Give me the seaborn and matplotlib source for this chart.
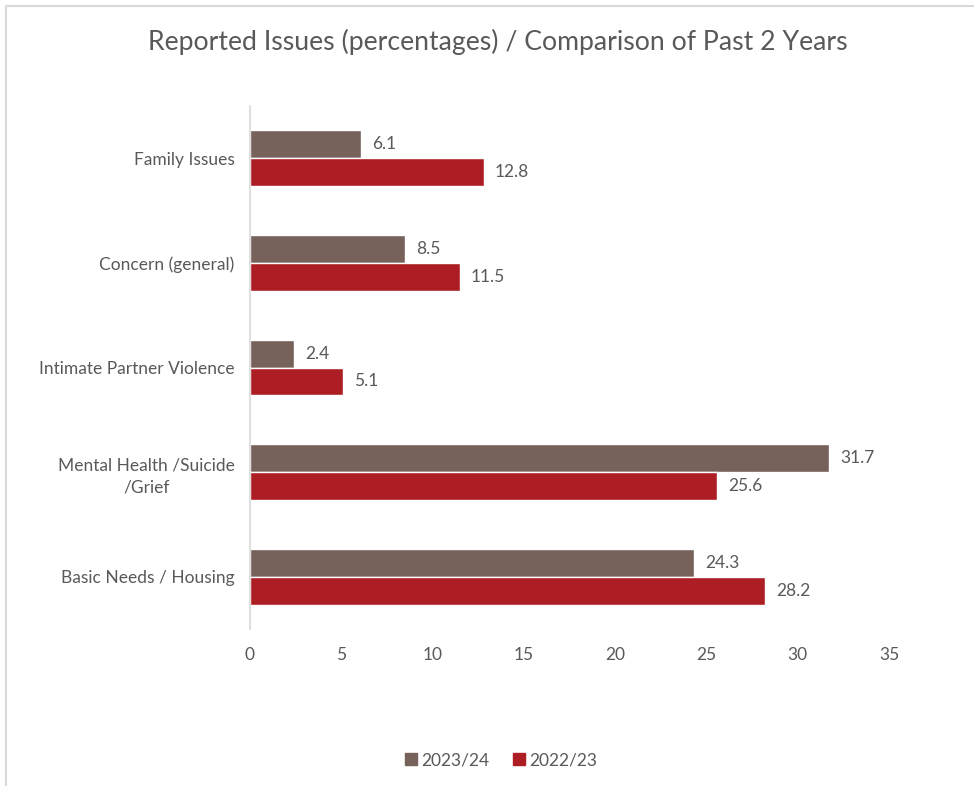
import matplotlib
matplotlib.use("Agg")
import matplotlib.pyplot as plt
import seaborn as sns
import pandas as pd
from matplotlib.lines import Line2D

categories = ["Family Issues", "Concern (general)", "Intimate Partner Violence",
              "Mental Health /Suicide\n/Grief", "Basic Needs / Housing"]
series_names = ["2023/24", "2022/23"]
values_2023_24 = [6.1, 8.5, 2.4, 31.7, 24.3]
values_2022_23 = [12.8, 11.5, 5.1, 25.6, 28.2]
x_ticks = [0, 5, 10, 15, 20, 25, 30, 35]
title = "Reported Issues (percentages) / Comparison of Past 2 Years"
colors = ["#76625A", "#AC1E24"]
text_color = "#595959"

df = pd.DataFrame({
    "Issue": categories * 2,
    "Year": [series_names[0]] * len(categories) + [series_names[1]] * len(categories),
    "Value": values_2023_24 + values_2022_23,
})

sns.set_theme(style="white")
plt.rcParams["font.family"] = ["Lato", "DejaVu Sans"]

fig = plt.figure(figsize=(9.74, 7.86), dpi=100)
ax = fig.add_axes([250/974, 1-629/786, (889-250)/974, (629-106)/786])

sns.barplot(data=df, y="Issue", x="Value", hue="Year", hue_order=series_names,
            order=categories, palette=colors, orient="h", width=0.535,
            saturation=1, ax=ax, legend=False, errorbar=None)

ax.set_xlim(0, 35)
ax.set_xticks(x_ticks)
ax.set_xticklabels([str(t) for t in x_ticks])
ax.set_xlabel("")
ax.set_ylabel("")
for s in ["top", "right", "bottom"]:
    ax.spines[s].set_visible(False)
ax.spines["left"].set_color("#D9D9D9")
ax.spines["left"].set_linewidth(1.2)
ax.tick_params(axis="both", length=0, colors=text_color, labelsize=12.5)
ax.tick_params(axis="x", pad=13)
ax.tick_params(axis="y", pad=11)
for lab in ax.get_yticklabels():
    lab.set_multialignment("center")
    lab.set_linespacing(1.45)
ax.grid(False)

for cont in ax.containers:
    ax.bar_label(cont, labels=[f"{v:.1f}" for v in cont.datavalues],
                 padding=8, color=text_color, fontsize=12.5)

fig.text(498/974, 1-42/786, title, ha="center", va="center",
         fontsize=19.2, color=text_color)

handles = [Line2D([], [], marker="s", linestyle="none", markersize=8,
                  markerfacecolor=c, markeredgecolor=c) for c in colors]
fig.legend(handles, series_names, loc="center", bbox_to_anchor=(500/974, 1-760/786),
           ncol=2, frameon=False, fontsize=12.5, labelcolor=text_color,
           handletextpad=0.1, columnspacing=1.2, handlelength=1.0)

# figure border (top and left visible in reference)
fig.add_artist(Line2D([6/974, 1], [1-6/786, 1-6/786], color="#D9D9D9", lw=1.5,
                      transform=fig.transFigure))
fig.add_artist(Line2D([6/974, 6/974], [0, 1-6/786], color="#D9D9D9", lw=1.5,
                      transform=fig.transFigure))

fig.savefig("out.png", dpi=100, facecolor="white")
